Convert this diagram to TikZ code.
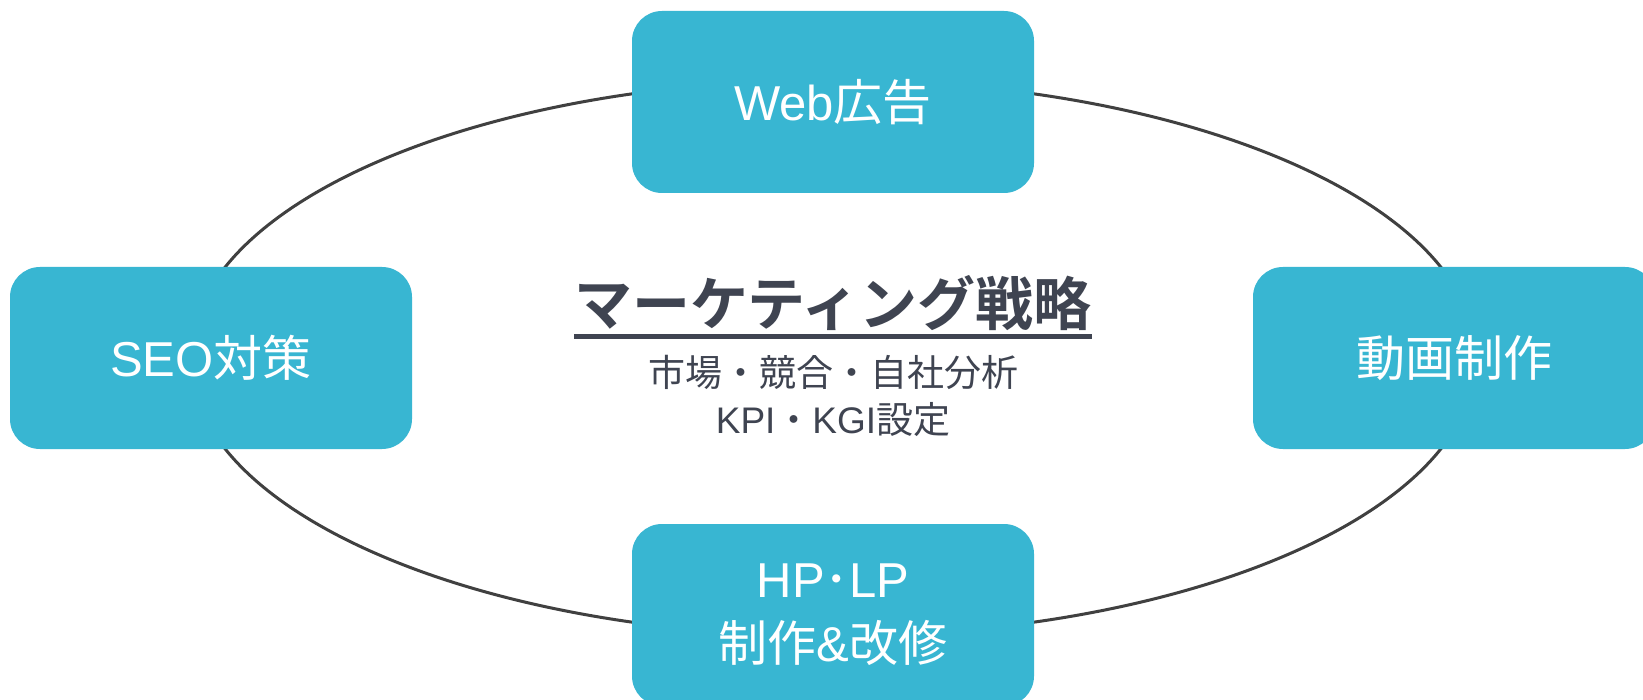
\documentclass[tikz,border=0pt]{standalone}
\usepackage{fontspec}
\newfontfamily\cjk{Noto Sans CJK JP}
\newfontfamily\cjkbold{Noto Sans CJK JP Bold}
\newfontfamily\lat{Liberation Sans}
\definecolor{boxblue}{HTML}{38B6D2}
\definecolor{darktext}{HTML}{3F4451}
\definecolor{ringgray}{HTML}{404040}
\begin{document}
\begin{tikzpicture}[x=1pt,y=-1pt,
  itembox/.style={rectangle, rounded corners=30pt, fill=boxblue, draw=none,
    minimum width=402pt, minimum height=182pt, text=white, align=center,
    font=\cjk\fontsize{49}{64}\selectfont},
  ring/.style={draw=ringgray, line width=3pt},
  centertext/.style={text=darktext, inner sep=0pt, align=center}]
\useasboundingbox (0,0) rectangle (1643,700);
\clip (0,0) rectangle (1643,700);
\fill[white] (0,0) rectangle (1643,700);
\draw[ring] (833,358) ellipse [x radius=643, y radius=278];
\node[itembox] (web) at (833,102) {{\lat Web}広告};
\node[itembox] (seo) at (211,358) {{\lat SEO}対策};
\node[itembox] (video) at (1454,358) {動画制作};
\node[itembox] (hp) at (833,615) {{\lat HP}･{\lat LP}\\制作{\lat\&}改修};
\node[centertext, font=\cjkbold\fontsize{58}{64}\selectfont] (title) at (833,303) {マーケティング戦略};
\draw[darktext, line width=5pt] ([yshift=-6pt]title.south west) -- ([yshift=-6pt]title.south east);
\node[centertext, font=\cjk\fontsize{37}{48}\selectfont] (sub1) at (833,372) {市場・競合・自社分析};
\node[centertext, font=\cjk\fontsize{37}{48}\selectfont] (sub2) at (833,420) {{\lat KPI}・{\lat KGI}設定};
\end{tikzpicture}
\end{document}
